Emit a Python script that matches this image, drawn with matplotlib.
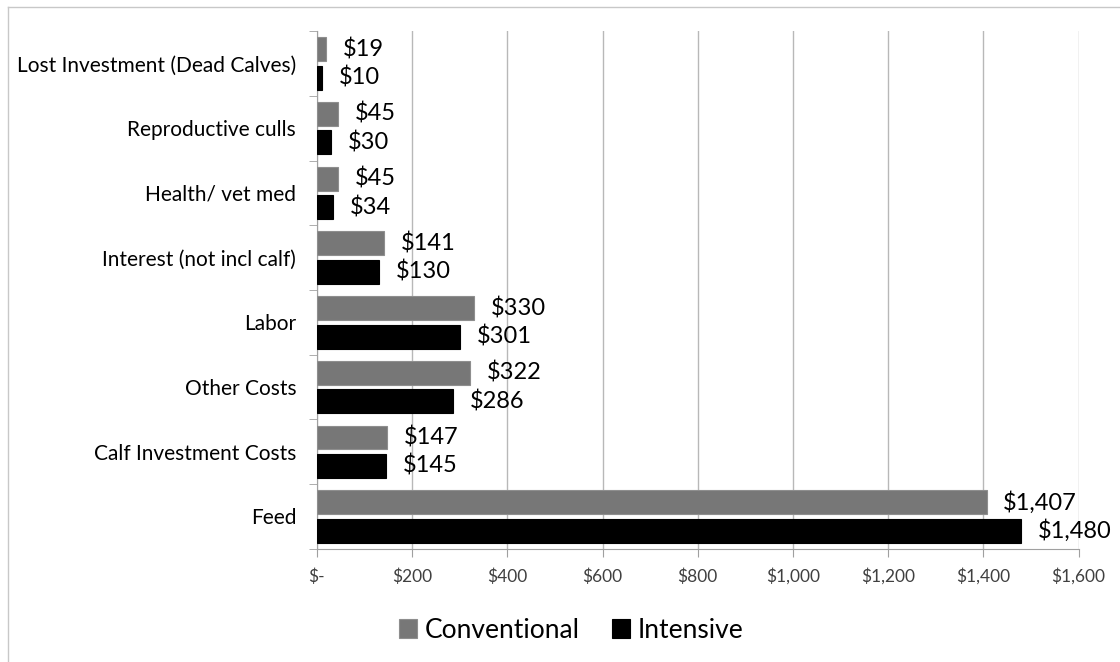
import numpy as np
import matplotlib
matplotlib.use('Agg')
import matplotlib.pyplot as plt
from matplotlib.lines import Line2D

plt.rcParams['font.family'] = ['Lato', 'DejaVu Sans']

categories = ['Feed', 'Calf Investment Costs', 'Other Costs', 'Labor',
              'Interest (not incl calf)', 'Health/ vet med',
              'Reproductive culls', 'Lost Investment (Dead Calves)']
conventional = [1407, 147, 322, 330, 141, 45, 45, 19]
intensive = [1480, 145, 286, 301, 130, 34, 30, 10]
xticks = [0, 200, 400, 600, 800, 1000, 1200, 1400, 1600]
xticklabels = ['$-', '$200', '$400', '$600', '$800', '$1,000', '$1,200', '$1,400', '$1,600']

fig = plt.figure(figsize=(11.2, 6.62), dpi=100)
ax = fig.add_axes([0.283, 0.171, 0.68, 0.782])

y = np.arange(len(categories))
h = 0.37
off = 0.22
b1 = ax.barh(y + off, conventional, height=h, color='#777777', edgecolor='#8e8e8e',
             linewidth=0.8, label='Conventional', zorder=3)
b2 = ax.barh(y - off, intensive, height=h, color='black', edgecolor='black',
             linewidth=0.8, label='Intensive', zorder=3)

for bars, vals in ((b1, conventional), (b2, intensive)):
    for bar, v in zip(bars, vals):
        ax.annotate('${:,}'.format(v), (bar.get_width(), bar.get_y() + bar.get_height() / 2),
                    xytext=(12, 0), textcoords='offset points', va='center', ha='left',
                    fontsize=17, color='black')

ax.set_xlim(0, 1600)
ax.set_ylim(-0.5, len(categories) - 0.5)
ax.set_xticks(xticks)
ax.set_xticklabels(xticklabels, fontsize=12.5, color='#404040')
ax.set_yticks(y)
ax.set_yticklabels(categories, fontsize=15, color='black')
ax.set_yticks(np.arange(len(categories) + 1) - 0.5, minor=True)
ax.tick_params(axis='y', which='major', length=0, pad=15)
ax.tick_params(axis='y', which='minor', length=6, color='#a0a0a0')
ax.tick_params(axis='x', length=6, color='#a0a0a0', pad=8)
ax.grid(axis='x', color='#b8b8b8', linewidth=1, zorder=0)
for s in ('top', 'right'):
    ax.spines[s].set_visible(False)
for s in ('left', 'bottom'):
    ax.spines[s].set_color('#a0a0a0')

fig.legend(handles=[b1, b2], loc='center', bbox_to_anchor=(0.51, 0.048), ncol=2,
           frameon=False, fontsize=19, handlelength=0.7, handleheight=0.7,
           handletextpad=0.3, columnspacing=1.2)

fig.add_artist(Line2D([0.007, 1.0], [0.989, 0.989], color='#c8c8c8', linewidth=1))
fig.add_artist(Line2D([0.007, 0.007], [0.0, 0.989], color='#c8c8c8', linewidth=1))

fig.savefig('out.png', dpi=100)
